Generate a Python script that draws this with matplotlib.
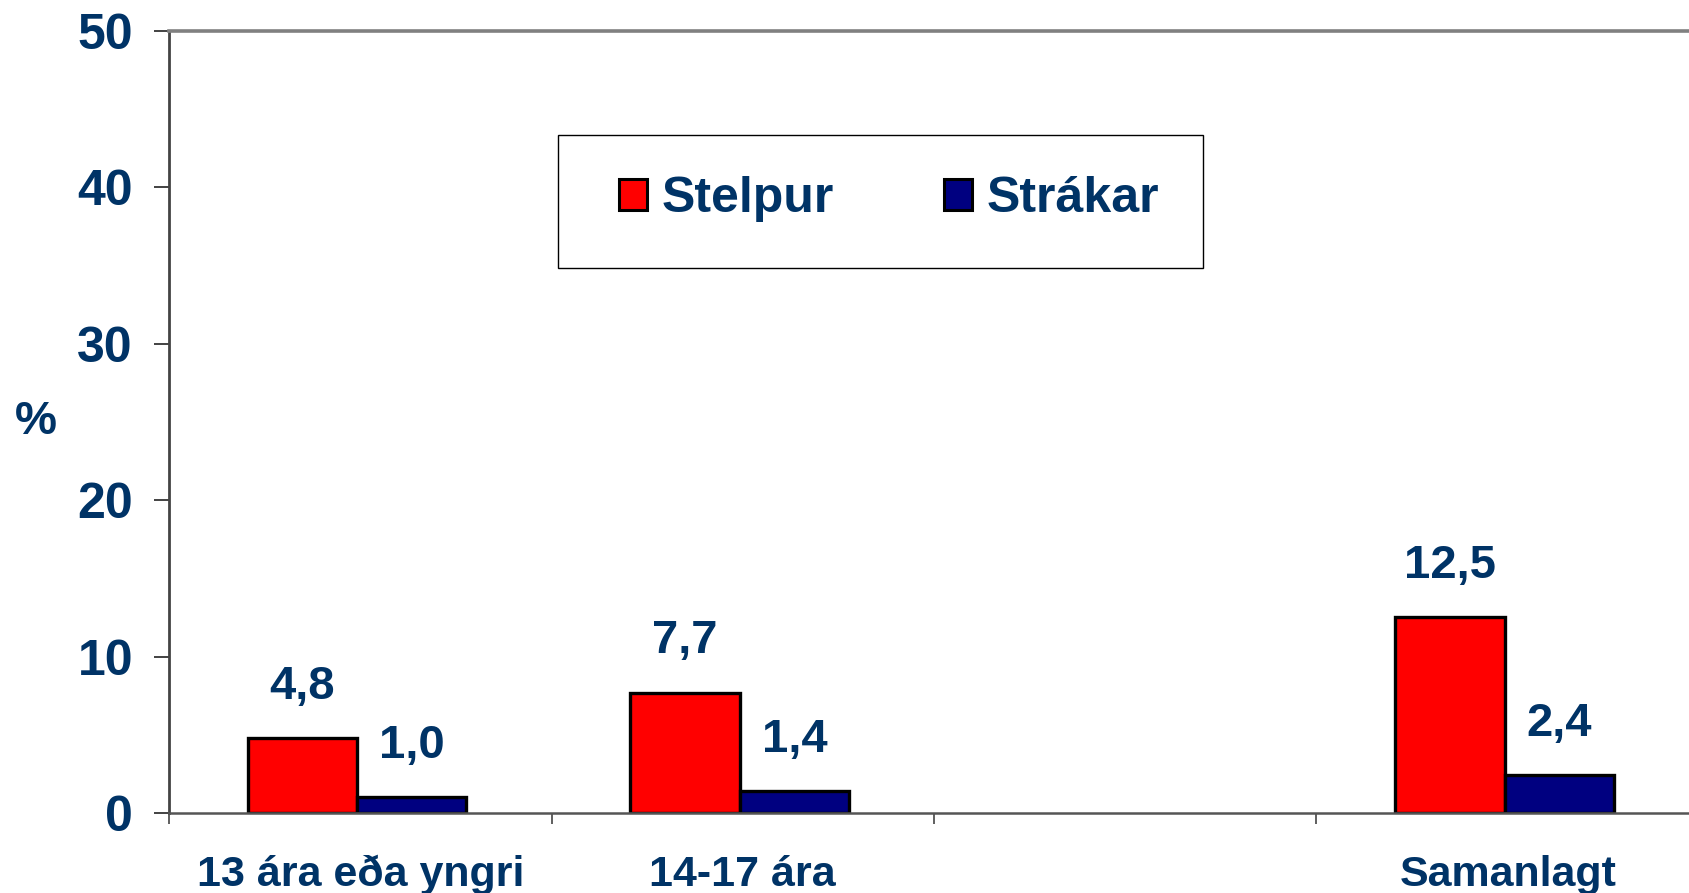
import matplotlib
matplotlib.use("Agg")
import matplotlib.pyplot as plt
import numpy as np
from matplotlib.patches import Rectangle

# ---- data ----
categories = ["13 ára eða yngri", "14-17 ára", "", "Samanlagt"]
stelpur = [4.8, 7.7, np.nan, 12.5]
strakar = [1.0, 1.4, np.nan, 2.4]
series_names = ["Stelpur", "Strákar"]
y_ticks = [0, 10, 20, 30, 40, 50]

TXT = "#003366"
RED = "#FF0000"
NAVY = "#000080"

plt.rcParams['font.family'] = ['Liberation Sans', 'DejaVu Sans']
plt.rcParams['font.weight'] = 'bold'

fig = plt.figure(figsize=(16.9, 8.93), dpi=100)
ax = fig.add_axes([169/1690, 1-813/893, 1530/1690, (813-30.7)/893])

n = len(categories)
idx = np.arange(n)
w = 1/3.5
shift = -0.008
b1 = ax.bar(idx + 0.5 - w/2 + shift, stelpur, width=w, color=RED, edgecolor="black", linewidth=2.4, label=series_names[0])
b2 = ax.bar(idx + 0.5 + w/2 + shift, strakar, width=w, color=NAVY, edgecolor="black", linewidth=2.4, label=series_names[1])

for xs, vals in ((idx + 0.5 - w/2 + shift, stelpur), (idx + 0.5 + w/2 + shift, strakar)):
    for x, v in zip(xs, vals):
        if np.isnan(v):
            continue
        ax.annotate(f"{v:.1f}".replace('.', ','), (x, v), xytext=(0, 37), textcoords="offset points",
                    ha="center", va="center", fontsize=34, fontweight="bold", color=TXT)

ax.set_xlim(0, n)
ax.set_ylim(0, 50)
ax.set_yticks(y_ticks)
ax.set_yticklabels([str(t) for t in y_ticks], fontsize=36, fontweight="bold", color=TXT)
ax.tick_params(axis="y", direction="out", length=11, width=1.2, color="#222222", pad=15)

ax.set_xticks(np.arange(0, n + 1))
ax.set_xticklabels([])
ax.tick_params(axis="x", which="major", direction="out", length=8, width=1.2, color="#444444")
ax.set_xticks(idx + 0.5, minor=True)
ax.set_xticklabels(categories, minor=True, fontsize=31, fontweight="bold", color=TXT)
ax.tick_params(axis="x", which="minor", length=0, pad=30)

ax.set_ylabel("%", rotation=0, fontsize=34, fontweight="bold", color=TXT, ha="center", va="center")
ax.yaxis.set_label_coords(-0.0873, 0.5)

ax.spines["top"].set_color("#808080")
ax.spines["top"].set_linewidth(2.6)
ax.spines["left"].set_color("#444444")
ax.spines["left"].set_linewidth(2.0)
ax.spines["bottom"].set_color("#555555")
ax.spines["bottom"].set_linewidth(1.8)
ax.spines["right"].set_visible(False)

# legend box
fig.patches.append(Rectangle((558/1690, 1-268/893), (1203-558)/1690, (268-135)/893,
                             transform=fig.transFigure, fill=False, edgecolor="black",
                             linewidth=1.0, zorder=5))
leg = fig.legend(handles=[b1, b2], labels=series_names, loc="center",
                 bbox_to_anchor=(889/1690, 1-199/893), ncol=2, frameon=False,
                 prop={"size": 36, "weight": "bold"}, handlelength=0.56, handleheight=0.56,
                 handletextpad=0.3, columnspacing=2.2)
for t in leg.get_texts():
    t.set_color(TXT)
for h in leg.legend_handles:
    h.set_linewidth(2.2)

fig.savefig("out.png", dpi=100)
